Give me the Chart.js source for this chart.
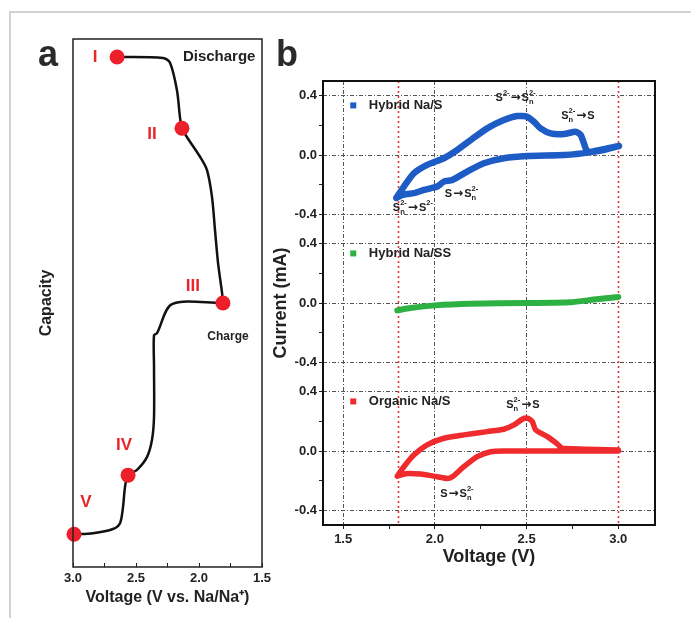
<!DOCTYPE html>
<html>
<head>
<meta charset="utf-8">
<script src="https://cdn.jsdelivr.net/npm/chart.js@4.4.1/dist/chart.umd.min.js"></script>
<style>
  html, body { margin: 0; padding: 0; background: #fff; }
  body { width: 691px; height: 618px; position: relative; overflow: hidden; font-family: "Liberation Sans", Arial, sans-serif; }
  .frame { position: absolute; left: 9px; top: 11px; right: -4px; bottom: -4px; border-left: 2px solid #d2d2d2; border-top: 2px solid #d2d2d2; }
  .tag { position: absolute; font-weight: bold; font-size: 36px; line-height: 1; color: #2a2a2a; }
  #wrapA { position: absolute; left: 0; top: 0; width: 280px; height: 618px; }
  #wrapB { position: absolute; left: 270px; top: 0; width: 421px; height: 618px; }
</style>
</head>
<body>
<div class="frame"></div>
<div id="wrapA"><canvas id="chartA" width="280" height="618"></canvas></div>
<div id="wrapB"><canvas id="chartB" width="421" height="618"></canvas></div>
<div class="tag" style="left:38px; top:36px;">a</div>
<div class="tag" style="left:276px; top:36px;">b</div>
<script>
// ---- panel a : discharge / charge profile (capacity has no scale, 0..100) ----
const dischargeV   = [2.651, 2.286, 2.230, 2.175, 2.151, 2.135, 2.095, 1.992, 1.937, 1.897, 1.873, 1.849, 1.817, 1.810];
const dischargeCap = [96.6, 96.4, 95.5, 90.3, 85.2, 83.1, 81.4, 77.7, 75.2, 70.1, 63.8, 57.6, 51.9, 50.0];
const chargeV   = [1.810, 2.214, 2.333, 2.357, 2.357, 2.357, 2.373, 2.413, 2.492, 2.563, 2.587, 2.603, 2.627, 2.683, 2.841, 2.992];
const chargeCap = [50.0, 49.8, 44.3, 43.9, 37.9, 28.4, 24.1, 20.8, 18.4, 17.4, 15.2, 11.4, 8.3, 7.2, 6.4, 6.2];
const stageNames = ['I', 'II', 'III', 'IV', 'V'];
const stageV     = [2.65, 2.135, 1.81, 2.563, 2.992];
const stageCap   = [96.6, 83.1, 50.0, 17.4, 6.2];
const stageLabelV   = [2.825, 2.373, 2.048, 2.595, 2.897];
const stageLabelCap = [96.6, 82.0, 53.2, 23.1, 12.3];
const voltTicksA = [3.0, 2.75, 2.5, 2.25, 2.0, 1.75, 1.5];

// ---- panel b : cyclic voltammograms ----
const voltTicksB = [1.5, 1.75, 2.0, 2.25, 2.5, 2.75, 3.0];
const currentTicks = [-0.4, -0.2, 0, 0.2, 0.4];
const cutoffVolts = [1.8, 3.0];

const hybridV = [1.790, 1.831, 1.885, 1.958, 2.049, 2.122, 2.195, 2.285, 2.376, 2.449, 2.504, 2.540, 2.576, 2.631, 2.704, 2.767, 2.795, 2.822, 2.831, 2.922, 3.004,
                 2.831, 2.704, 2.504, 2.376, 2.267, 2.176, 2.095, 2.049, 2.013, 1.976, 1.940, 1.885, 1.849, 1.822, 1.790];
const hybridI = [-0.290, -0.213, -0.124, -0.067, -0.022, 0.034, 0.101, 0.180, 0.236, 0.263, 0.258, 0.225, 0.180, 0.146, 0.142, 0.157, 0.135, 0.045, 0.022, 0.034, 0.061,
                 0.016, 0.000, -0.007, -0.022, -0.056, -0.112, -0.169, -0.180, -0.213, -0.225, -0.236, -0.258, -0.263, -0.270, -0.290];

const hybridSSV = [1.795, 1.867, 2.000, 2.195, 2.504, 2.740, 2.867, 3.000];
const hybridSSI = [-0.050, -0.034, -0.016, -0.005, 0.000, 0.005, 0.023, 0.041];

const organicV = [1.795, 1.831, 1.885, 1.958, 2.049, 2.158, 2.285, 2.376, 2.431, 2.476, 2.504, 2.531, 2.549, 2.613, 2.667, 2.695, 3.000,
                  3.000, 2.686, 2.376, 2.304, 2.231, 2.158, 2.095, 2.067, 2.013, 1.922, 1.849, 1.795];
const organicI = [-0.170, -0.106, -0.027, 0.041, 0.086, 0.109, 0.131, 0.147, 0.176, 0.215, 0.222, 0.199, 0.143, 0.097, 0.048, 0.018, 0.007,
                  0.000, 0.000, 0.000, -0.005, -0.038, -0.106, -0.174, -0.186, -0.174, -0.156, -0.152, -0.170];

const cellNames  = ['Hybrid Na/S', 'Hybrid Na/SS', 'Organic Na/S'];
const cellColors = ['#1d5cc4', '#2cb142', '#ef2b2d'];
const cellAxes   = ['yTop', 'yMid', 'yBot'];

const peakText  = ['S^{2-}→S_n^{2-}', 'S_n^{2-}→S', 'S→S_n^{2-}', 'S_n^{2-}→S^{2-}', 'S_n^{2-}→S', 'S→S_n^{2-}'];
const peakV     = [2.44, 2.78, 2.145, 1.88, 2.48, 2.12];
const peakI     = [0.39, 0.27, -0.26, -0.35, 0.32, -0.285];
const peakPanel = ['yTop', 'yTop', 'yTop', 'yTop', 'yBot', 'yBot'];

const FONT = '"Liberation Sans", Arial, sans-serif';
const INK = '#222';
const NONE = 'rgba(0,0,0,0)';
const pts = (xs, ys) => xs.map((x, i) => ({ x, y: ys[i] }));
const isHalf = v => Math.abs(v * 2 - Math.round(v * 2)) < 1e-9;

const frame = {
    id: 'frame',
    afterDatasetsDraw(chart, args, opts) {
        const { ctx, chartArea: a } = chart;
        ctx.save();
        ctx.strokeStyle = opts.color;
        ctx.lineWidth = opts.width;
        ctx.strokeRect(a.left, a.top, a.right - a.left, a.bottom - a.top);
        ctx.restore();
    }
};

// roman numerals and curve names in panel a
const stageText = {
    id: 'stageText',
    afterDatasetsDraw(chart) {
        const { ctx, scales: { x, y } } = chart;
        ctx.save();
        ctx.textAlign = 'center';
        ctx.textBaseline = 'middle';
        ctx.fillStyle = '#e8262c';
        ctx.font = 'bold 17px ' + FONT;
        stageNames.forEach((n, i) => {
            ctx.fillText(n, x.getPixelForValue(stageLabelV[i]), y.getPixelForValue(stageLabelCap[i]));
        });
        ctx.fillStyle = INK;
        ctx.font = 'bold 15px ' + FONT;
        ctx.fillText('Discharge', x.getPixelForValue(1.84), y.getPixelForValue(96.6));
        ctx.font = 'bold 12px ' + FONT;
        ctx.fillText('Charge', x.getPixelForValue(1.77), y.getPixelForValue(43.6));
        ctx.restore();
    }
};

new Chart(document.getElementById('chartA'), {
    type: 'scatter',
    data: {
        datasets: [
            { data: pts(stageV, stageCap), pointRadius: 7.5, pointHoverRadius: 7.5, backgroundColor: '#ec1f2a', borderWidth: 0, clip: false },
            { data: pts(dischargeV, dischargeCap), showLine: true, borderColor: '#111', borderWidth: 2.5, pointRadius: 0, tension: 0.3 },
            { data: pts(chargeV, chargeCap), showLine: true, borderColor: '#111', borderWidth: 2.5, pointRadius: 0, tension: 0.3 }
        ]
    },
    options: {
        responsive: false,
        animation: false,
        layout: { padding: { top: 39, right: 18, left: 0, bottom: 0 } },
        plugins: { legend: { display: false }, tooltip: { enabled: false }, frame: { color: '#222', width: 1.5 } },
        scales: {
            x: {
                type: 'linear', reverse: true, min: 1.5, max: 3.0,
                afterBuildTicks: s => { s.ticks = voltTicksA.map(v => ({ value: v })); },
                afterFit: s => { s.height = 51; s.paddingLeft = 0; s.paddingRight = 0; },
                ticks: { callback: v => isHalf(v) ? v.toFixed(1) : '', color: INK, font: { family: FONT, size: 13, weight: 'bold' }, padding: 8, maxRotation: 0, autoSkip: false },
                grid: { drawOnChartArea: false, drawTicks: true, tickLength: -4, color: INK },
                border: { display: false },
                title: { display: true, text: 'Voltage (V vs. Na/Na⁺)', color: INK, font: { family: FONT, size: 16, weight: 'bold' }, padding: { top: 0, bottom: 11 } }
            },
            y: {
                type: 'linear', min: 0, max: 100,
                afterFit: s => { s.width = 73; },
                ticks: { display: false },
                grid: { display: false },
                border: { display: false },
                title: { display: true, text: 'Capacity', color: INK, font: { family: FONT, size: 16, weight: 'bold' }, padding: { top: 37, bottom: 0 } }
            }
        }
    },
    plugins: [frame, stageText]
});

// ---- panel b helpers ----
function drawChem(ctx, str, cx, cy) {
    const parts = [];
    let i = 0;
    while (i < str.length) {
        const c = str[i];
        if (c === '^' || c === '_') {
            let s;
            if (str[i + 1] === '{') { const k = str.indexOf('}', i); s = str.slice(i + 2, k); i = k + 1; }
            else { s = str[i + 1]; i += 2; }
            parts[parts.length - 1][c === '^' ? 'sup' : 'sub'] = s;
        } else { parts.push({ t: c }); i++; }
    }
    const big = 'bold 11px ' + FONT, arrow = 'bold 12px "DejaVu Sans"', small = 'bold 7.5px ' + FONT;
    const fontOf = p => p.t === '→' ? arrow : big;
    parts.forEach(p => {
        ctx.font = fontOf(p);
        p.w = ctx.measureText(p.t).width + (p.t === '→' ? 2 : 0);
        ctx.font = small;
        p.sw = Math.max(p.sup ? ctx.measureText(p.sup).width : 0, p.sub ? ctx.measureText(p.sub).width : 0);
    });
    const total = parts.reduce((a, p) => a + p.w + p.sw, 0);
    let x = cx - total / 2;
    const base = cy + 4;
    ctx.textAlign = 'left';
    ctx.textBaseline = 'alphabetic';
    parts.forEach(p => {
        ctx.font = fontOf(p);
        ctx.fillText(p.t, x + (p.t === '→' ? 1 : 0), base);
        x += p.w;
        ctx.font = small;
        if (p.sup) ctx.fillText(p.sup, x, base - 6);
        if (p.sub) ctx.fillText(p.sub, x, base + 3);
        x += p.sw;
    });
}

const cutoffLines = {
    id: 'cutoffLines',
    beforeDatasetsDraw(chart) {
        const { ctx, chartArea: a, scales: { x } } = chart;
        ctx.save();
        ctx.strokeStyle = '#e0383a';
        ctx.lineWidth = 1.6;
        ctx.setLineDash([2, 3]);
        cutoffVolts.forEach(v => {
            const px = Math.round(x.getPixelForValue(v)) + 0.5;
            ctx.beginPath();
            ctx.moveTo(px, a.top);
            ctx.lineTo(px, a.bottom);
            ctx.stroke();
        });
        ctx.restore();
    }
};

const panelNotes = {
    id: 'panelNotes',
    afterDatasetsDraw(chart) {
        const { ctx, scales } = chart;
        const x = scales.x;
        ctx.save();
        // per-panel legend
        cellNames.forEach((name, i) => {
            const py = scales[cellAxes[i]].getPixelForValue(0.335);
            ctx.fillStyle = cellColors[i];
            ctx.fillRect(x.getPixelForValue(1.555) - 3, py - 3, 6, 6);
            ctx.fillStyle = INK;
            ctx.font = 'bold 13px ' + FONT;
            ctx.textAlign = 'left';
            ctx.textBaseline = 'middle';
            ctx.fillText(name, x.getPixelForValue(1.64), py);
        });
        // redox assignments
        ctx.fillStyle = INK;
        peakText.forEach((t, i) => {
            drawChem(ctx, t, x.getPixelForValue(peakV[i]), scales[peakPanel[i]].getPixelForValue(peakI[i]));
        });
        ctx.restore();
    }
};

const gridDash = [4, 2, 1, 2];
const makeY = (weight, withTitle) => ({
    type: 'linear', position: 'left', stack: 'cv', stackWeight: 1, weight,
    min: -0.5, max: 0.5,
    afterBuildTicks: s => { s.ticks = currentTicks.map(v => ({ value: v })); },
    afterFit: s => { s.width = 53; },
    ticks: {
        callback: v => (Math.abs(v) < 1e-9 || Math.abs(Math.abs(v) - 0.4) < 1e-9) ? v.toFixed(1) : '',
        color: INK, font: { family: FONT, size: 13, weight: 'bold' }, padding: 2, autoSkip: false
    },
    grid: {
        color: c => (c.tick && (Math.abs(c.tick.value) > 0.3 || Math.abs(c.tick.value) < 1e-9)) ? '#555' : NONE,
        tickColor: INK, tickLength: 4, lineWidth: 1
    },
    border: { display: false, dash: gridDash },
    title: { display: withTitle, text: 'Current (mA)', color: INK, font: { family: FONT, size: 18, weight: 'bold' }, padding: { top: 0, bottom: 0 } }
});

const cvSets = [[hybridV, hybridI, 6.5], [hybridSSV, hybridSSI, 6], [organicV, organicI, 5.5]];

new Chart(document.getElementById('chartB'), {
    type: 'scatter',
    data: {
        datasets: cvSets.map(([xs, ys, w], i) => ({
            label: cellNames[i],
            data: pts(xs, ys),
            yAxisID: cellAxes[i],
            showLine: true,
            borderColor: cellColors[i],
            borderWidth: w,
            borderJoinStyle: 'round',
            borderCapStyle: 'round',
            pointRadius: 0,
            tension: 0.2
        }))
    },
    options: {
        responsive: false,
        animation: false,
        layout: { padding: { top: 81, right: 36, left: 0, bottom: 0 } },
        plugins: { legend: { display: false }, tooltip: { enabled: false }, frame: { color: '#111', width: 2 } },
        scales: {
            x: {
                type: 'linear', min: 1.39, max: 3.2,
                afterBuildTicks: s => { s.ticks = voltTicksB.map(v => ({ value: v })); },
                afterFit: s => { s.height = 93; },
                ticks: { callback: v => isHalf(v) ? v.toFixed(1) : '', color: INK, font: { family: FONT, size: 13, weight: 'bold' }, padding: 3, maxRotation: 0, autoSkip: false },
                grid: {
                    color: c => (c.tick && isHalf(c.tick.value) && !cutoffVolts.includes(c.tick.value)) ? '#555' : NONE,
                    tickColor: INK, tickLength: 4, lineWidth: 1
                },
                border: { display: false, dash: gridDash },
                title: { display: true, text: 'Voltage (V)', color: INK, font: { family: FONT, size: 18, weight: 'bold' }, padding: { top: 0, bottom: 50 } }
            },
            yTop: makeY(3, false),
            yMid: makeY(2, true),
            yBot: makeY(1, false)
        }
    },
    plugins: [cutoffLines, frame, panelNotes]
});
</script>
</body>
</html>
